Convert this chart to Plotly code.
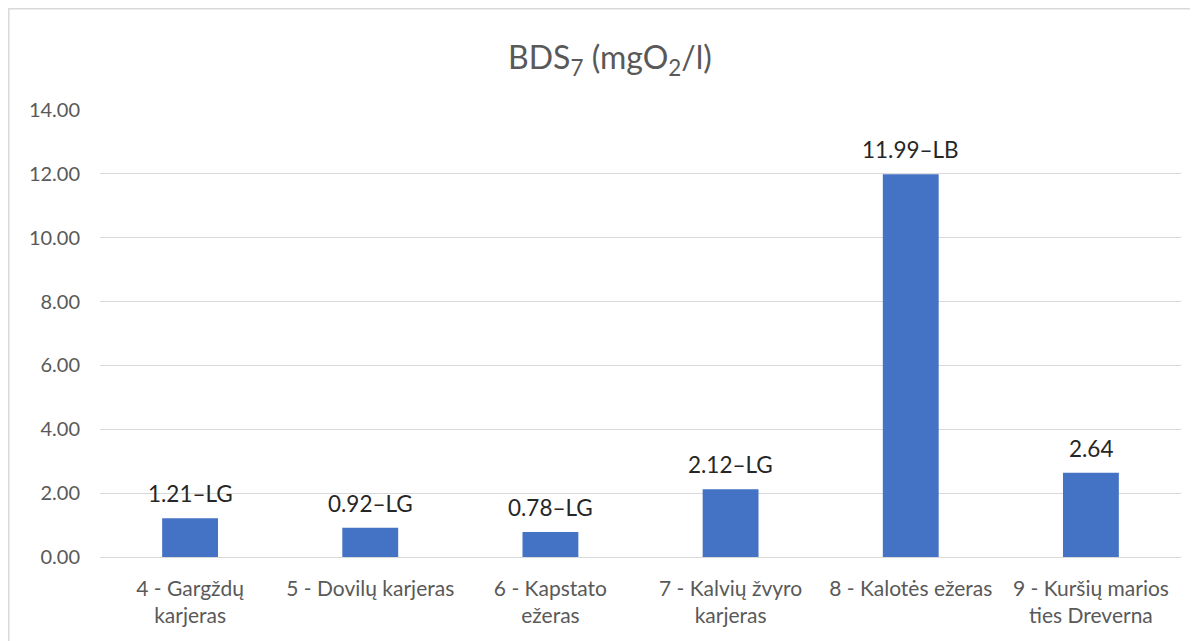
import plotly.graph_objects as go

categories = ["4 - Gargždų<br>karjeras", "5 - Dovilų karjeras", "6 - Kapstato<br>ežeras",
              "7 - Kalvių žvyro<br>karjeras", "8 - Kalotės ežeras", "9 - Kuršių marios<br>ties Dreverna"]
values = [1.21, 0.92, 0.78, 2.12, 11.99, 2.64]
labels = ["1.21–LG", "0.92–LG", "0.78–LG", "2.12–LG", "11.99–LB", "2.64"]
title_text = "BDS<sub>7</sub> (mgO<sub>2</sub>/l)"

FONT = "Lato, 'Open Sans', sans-serif"

fig = go.Figure(go.Bar(x=categories, y=values, marker_color="#4472C4",
                       marker_line_width=0, hoverinfo="skip"))

for c, v, t in zip(categories, values, labels):
    fig.add_annotation(x=c, y=v, text=t, showarrow=False, yanchor="bottom", yshift=9,
                       font=dict(family=FONT, size=22.5, color="#262626"))

L, R, T, B = 92, 25, 102, 92
W, H = 1198, 641
pw, ph = W - L - R, H - T - B
fig.add_shape(type="rect", xref="paper", yref="paper",
              x0=(0.8 - L) / pw, x1=(1240 - L) / pw,
              y0=(H - B - 700) / ph, y1=(H - B - 0.8) / ph,
              line=dict(color="#d9d9d9", width=1.5), fillcolor="rgba(0,0,0,0)", layer="below")

fig.update_layout(
    width=W, height=H,
    margin=dict(l=L, r=R, t=T, b=B),
    paper_bgcolor="white", plot_bgcolor="white",
    bargap=0.69,
    showlegend=False,
    title=dict(text=title_text, x=(602 - L) / pw, xref="paper", xanchor="center",
               y=1 - 50 / H, yanchor="middle",
               font=dict(family=FONT, size=32, color="#595959")),
    font=dict(family=FONT, color="#595959"),
)
fig.update_yaxes(range=[0, 14], dtick=2, tickformat=".2f", showgrid=True,
                 gridcolor="#d9d9d9", gridwidth=1, zeroline=True, zerolinecolor="#d9d9d9",
                 zerolinewidth=1, showline=False, ticks="", ticklabelstandoff=19,
                 tickfont=dict(family=FONT, size=20, color="#595959"), fixedrange=True)
fig.update_xaxes(showgrid=False, showline=False, ticks="",
                 tickfont=dict(family=FONT, size=21, color="#595959"), tickangle=0,
                 ticklabelstandoff=17, fixedrange=True)

fig.write_html("out.html", config={"displayModeBar": False})
